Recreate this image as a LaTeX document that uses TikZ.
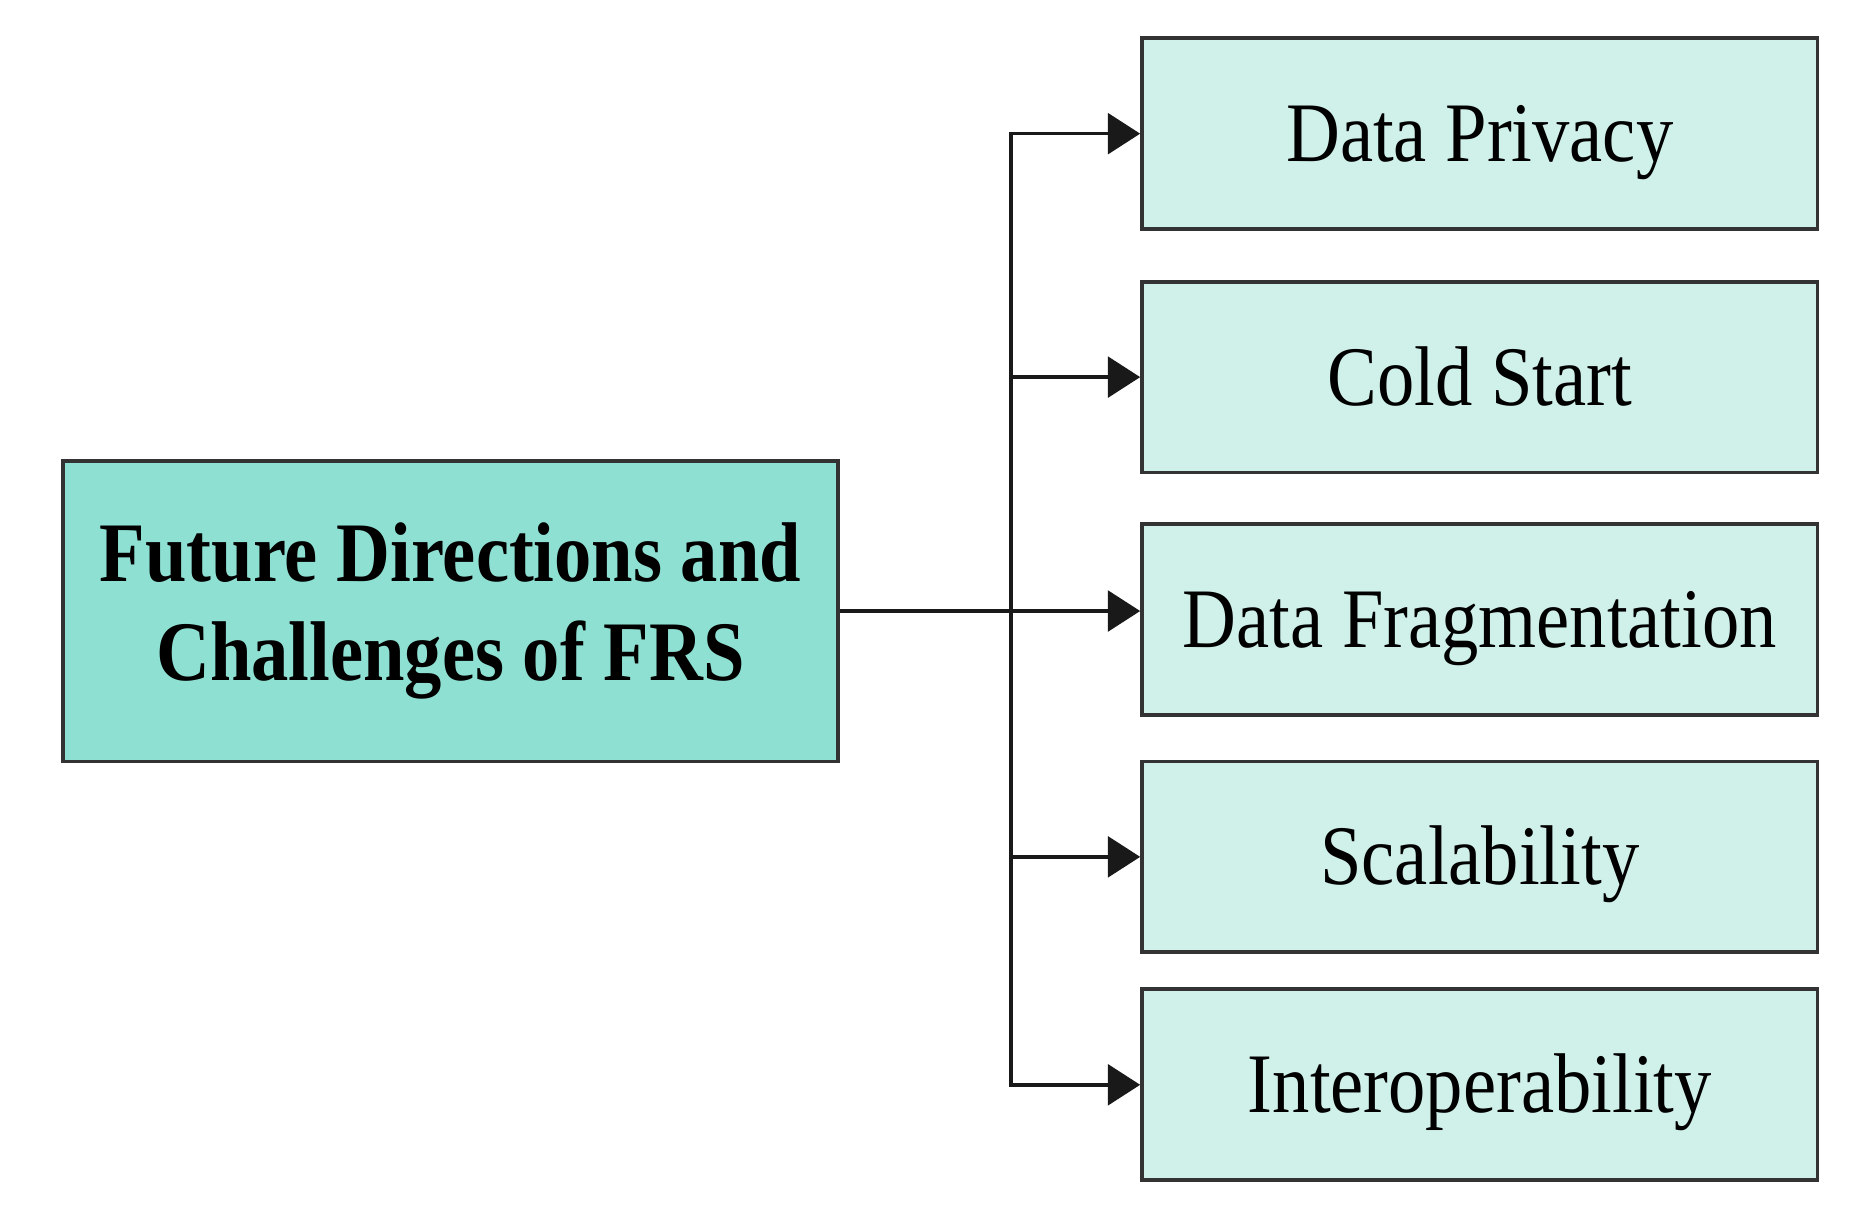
\documentclass[tikz,border=0pt]{standalone}
\usepackage{fontspec}
\setmainfont[FakeStretch=0.88]{Liberation Serif}
\usetikzlibrary{arrows.meta}
\definecolor{headfill}{HTML}{8EE0D3}
\definecolor{itemfill}{HTML}{D0F0EA}
\definecolor{edge}{HTML}{333333}
\begin{document}
\begin{tikzpicture}[box/.style={rectangle, draw=edge, line width=0.9pt, inner sep=0pt, align=center, font=\fontsize{20.2}{23.6}\selectfont},
  head/.style={box, fill=headfill, minimum width=6.49cm, minimum height=2.52cm, font=\fontsize{20.2}{23.6}\selectfont\bfseries},
  item/.style={box, fill=itemfill, minimum width=5.66cm, minimum height=1.60cm, text height=13.4pt, text depth=0pt},
  link/.style={line width=0.85pt, draw=black!90},
  arr/.style={link, -{Triangle[length=0.27cm, width=0.34cm]}}]
  \useasboundingbox (0,0) rectangle (15.636,-10.24);
  \node[head] (frs) at (3.775, -5.12) {Future Directions and\\Challenges of FRS};
  \node[item] (privacy) at (12.40, -1.12) {Data Privacy};
  \node[item] (cold) at (12.40, -3.16) {Cold Start};
  \node[item] (frag) at (12.40, -5.19) {Data Fragmentation};
  \node[item] (scal) at (12.40, -7.18) {Scalability};
  \node[item] (interop) at (12.40, -9.09) {Interoperability};
  \coordinate (trunk) at (8.47, -5.12);
  \draw[arr, line cap=rect] (trunk |- interop.west) |- (privacy.west);
  \draw[arr] (frs.east) -- (frag.west |- frs.east);
  \draw[arr] (trunk |- cold.west) -- (cold.west);
  \draw[arr] (trunk |- scal.west) -- (scal.west);
  \draw[arr] (trunk |- interop.west) -- (interop.west);
\end{tikzpicture}
\end{document}
